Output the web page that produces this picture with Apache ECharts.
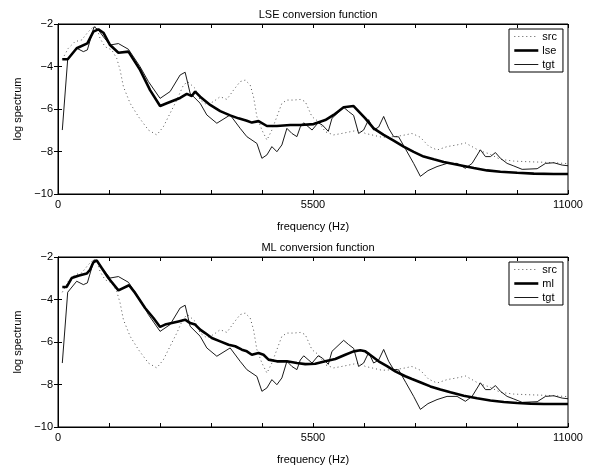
<!DOCTYPE html>
<html>
<head>
<meta charset="utf-8">
<script src="https://cdn.jsdelivr.net/npm/echarts@6/dist/echarts.min.js"></script>
<style>
  html, body { margin: 0; padding: 0; background: #fff; }
  #chart { width: 599px; height: 471px; }
</style>
</head>
<body>
<div id="chart"></div>
<script>
// 源谱、目标谱（两张图相同）
const srcPts = [[93,-3.66],[223,-3.14],[367,-2.83],[511,-2.75],[655,-2.36],[763,-2.13],[835,-2.16],[907,-2.68],[1015,-3.07],[1159,-3.22],[1267,-3.62],[1339,-4.16],[1411,-4.95],[1555,-5.73],[1735,-6.36],[1950,-6.99],[2130,-7.22],[2274,-6.83],[2418,-6.20],[2562,-5.58],[2706,-4.87],[2800,-4.72],[2958,-5.03],[3066,-5.58],[3210,-5.80],[3354,-5.65],[3498,-5.42],[3642,-5.55],[3786,-5.11],[3929,-4.71],[4037,-4.64],[4145,-4.87],[4217,-5.42],[4290,-6.36],[4398,-6.99],[4506,-7.46],[4613,-6.99],[4721,-6.36],[4829,-5.73],[4937,-5.58],[5081,-5.58],[5225,-5.55],[5333,-5.65],[5477,-6.36],[5621,-6.60],[5765,-7.07],[5945,-7.22],[6125,-7.15],[6304,-7.07],[6484,-6.99],[6628,-7.15],[6772,-7.22],[6988,-7.33],[7275,-7.30],[7491,-7.22],[7635,-7.15],[7816,-7.33],[7995,-7.75],[8175,-7.93],[8391,-7.77],[8607,-7.69],[8787,-7.60],[8931,-7.77],[9075,-7.95],[9291,-8.10],[9543,-8.37],[9830,-8.45],[10119,-8.48],[10407,-8.50],[10694,-8.53],[11000,-8.57]];
const tgtPts = [[93,-6.99],[209,-3.66],[403,-3.14],[547,-3.30],[633,-3.22],[777,-2.13],[871,-2.28],[979,-2.60],[1123,-2.99],[1303,-2.92],[1519,-3.19],[1770,-4.01],[1950,-4.71],[2202,-5.50],[2418,-5.18],[2634,-4.40],[2742,-4.27],[2850,-5.26],[3066,-5.73],[3210,-6.28],[3426,-6.67],[3713,-6.28],[3929,-6.91],[4073,-7.30],[4290,-7.62],[4398,-8.32],[4506,-8.16],[4613,-7.77],[4721,-8.01],[4829,-7.69],[4937,-6.91],[5045,-7.15],[5153,-7.30],[5225,-6.85],[5300,-6.65],[5480,-6.99],[5610,-6.65],[5700,-6.75],[5830,-7.05],[5909,-6.44],[6161,-5.92],[6268,-6.12],[6376,-6.30],[6484,-7.15],[6592,-6.99],[6700,-6.50],[6808,-6.99],[6916,-6.85],[7024,-6.35],[7132,-6.91],[7240,-7.30],[7347,-7.31],[7500,-7.90],[7671,-8.56],[7816,-9.17],[7980,-8.90],[8175,-8.71],[8391,-8.56],[8607,-8.56],[8787,-8.79],[8931,-8.56],[9111,-7.92],[9219,-8.24],[9327,-8.24],[9435,-8.05],[9543,-8.32],[9687,-8.56],[9830,-8.68],[10011,-8.84],[10335,-8.81],[10515,-8.56],[10694,-8.53],[10875,-8.64],[11000,-8.67]];
// 转换结果
const lsePts = [[93,-3.66],[209,-3.66],[403,-3.14],[633,-2.91],[763,-2.36],[871,-2.25],[979,-2.41],[1123,-2.99],[1303,-3.35],[1519,-3.30],[1770,-4.16],[1986,-5.11],[2202,-5.86],[2346,-5.73],[2634,-5.48],[2778,-5.29],[2886,-5.39],[2958,-5.18],[3066,-5.42],[3282,-5.81],[3498,-6.10],[3713,-6.30],[3893,-6.44],[4073,-6.55],[4181,-6.64],[4325,-6.57],[4506,-6.80],[4721,-6.80],[5009,-6.75],[5225,-6.75],[5513,-6.71],[5765,-6.52],[5945,-6.28],[6161,-5.92],[6376,-5.86],[6628,-6.44],[6808,-6.91],[7024,-7.22],[7240,-7.49],[7455,-7.77],[7671,-8.02],[7887,-8.24],[8103,-8.37],[8319,-8.49],[8535,-8.59],[8751,-8.68],[8967,-8.78],[9255,-8.89],[9543,-8.95],[9903,-9.00],[10263,-9.04],[10694,-9.06],[11000,-9.06]];
const mlPts = [[93,-3.41],[187,-3.41],[295,-2.99],[439,-2.88],[619,-2.78],[691,-2.60],[763,-2.25],[835,-2.16],[943,-2.52],[1087,-2.99],[1303,-3.57],[1533,-3.33],[1663,-3.69],[1878,-4.40],[2058,-4.87],[2202,-5.29],[2310,-5.18],[2454,-5.11],[2598,-5.03],[2742,-4.95],[2850,-5.11],[2958,-5.18],[3066,-5.42],[3174,-5.58],[3318,-5.81],[3498,-5.97],[3678,-6.13],[3822,-6.20],[3966,-6.36],[4073,-6.44],[4181,-6.60],[4325,-6.52],[4433,-6.60],[4541,-6.83],[4721,-6.91],[4937,-6.91],[5153,-6.99],[5333,-7.04],[5549,-7.02],[5765,-6.91],[5981,-6.80],[6196,-6.60],[6376,-6.44],[6520,-6.39],[6628,-6.44],[6772,-6.67],[6916,-6.91],[7096,-7.14],[7275,-7.38],[7491,-7.61],[7635,-7.74],[7851,-7.93],[8031,-8.09],[8247,-8.24],[8463,-8.37],[8751,-8.53],[9039,-8.65],[9327,-8.75],[9615,-8.82],[9903,-8.87],[10191,-8.90],[10479,-8.92],[11000,-8.92]];

const titles = ['LSE conversion function', 'ML conversion function'];
const xLabelTicks = [0, 5500, 11000];

const FONT = 'Liberation Sans, Arial, sans-serif';
const chart = echarts.init(document.getElementById('chart'));

function xAxisPair(gridIndex) {
    const base = {
        gridIndex: gridIndex, type: 'value', min: 0, max: 11000, interval: 1100,
        axisLine: { show: true, lineStyle: { color: '#000', width: 1 } },
        axisTick: { show: true, inside: true, length: 4, lineStyle: { color: '#000' } },
        splitLine: { show: false }
    };
    return [
        Object.assign({}, base, {
            position: 'bottom',
            name: 'frequency (Hz)', nameLocation: 'middle', nameGap: 27,
            nameTextStyle: { color: '#000', fontSize: 11, fontFamily: FONT },
            axisLabel: {
                color: '#000', fontSize: 11, fontFamily: FONT, margin: 5, showMinLabel: true, showMaxLabel: true,
                formatter: v => xLabelTicks.includes(v) ? String(v) : ''
            }
        }),
        Object.assign({}, base, { position: 'top', axisLabel: { show: false } })
    ];
}

function yAxisPair(gridIndex) {
    const base = {
        gridIndex: gridIndex, type: 'value', min: -10, max: -2, interval: 2,
        axisLine: { show: true, lineStyle: { color: '#000', width: 1 } },
        axisTick: { show: true, inside: true, length: 4, lineStyle: { color: '#000' } },
        splitLine: { show: false }
    };
    return [
        Object.assign({}, base, {
            position: 'left',
            name: 'log spectrum', nameLocation: 'middle', nameGap: 33,
            nameTextStyle: { color: '#000', fontSize: 11, fontFamily: FONT },
            axisLabel: {
                color: '#000', fontSize: 11, fontFamily: FONT, margin: 5,
                formatter: v => v < 0 ? '\u2212' + Math.abs(v) : String(v)
            }
        }),
        Object.assign({}, base, { position: 'right', axisLabel: { show: false } })
    ];
}

function lineSeries(name, data, gi, style) {
    return {
        name: name, type: 'line', data: data,
        xAxisIndex: gi * 2, yAxisIndex: gi * 2,
        symbol: 'none', showSymbol: false, silent: true,
        lineStyle: style, itemStyle: { color: style.color }
    };
}

const srcStyle = { color: '#555', width: 1, type: [1, 3] };
const convStyle = { color: '#000', width: 2.6 };
const tgtStyle = { color: '#000', width: 0.9 };

function legendAt(top, convName) {
    return {
        orient: 'vertical', left: 509, top: top,
        data: [
            { name: 'src', lineStyle: srcStyle },
            { name: convName, lineStyle: convStyle },
            { name: 'tgt', lineStyle: tgtStyle }
        ],
        selectedMode: false,
        itemWidth: 24, itemHeight: 10, itemGap: 3,
        padding: [2, 6, 2, 4],
        itemStyle: { opacity: 0, color: 'transparent', borderWidth: 0 },
        borderColor: '#000', borderWidth: 1, backgroundColor: '#fff', borderRadius: 0,
        textStyle: { color: '#000', fontSize: 11, fontFamily: FONT, padding: [0, 0, 0, -1] }
    };
}

chart.setOption({
    animation: false,
    backgroundColor: '#fff',
    title: titles.map((t, i) => ({
        text: t, left: 313, textAlign: 'center', top: i === 0 ? 4 : 237,
        textStyle: { color: '#000', fontSize: 11, fontWeight: 'normal', fontFamily: FONT }
    })),
    legend: [legendAt(29, 'lse'), legendAt(262, 'ml')],
    grid: [
        { left: 58, top: 24, width: 510, height: 170, show: true, borderColor: '#000', borderWidth: 1, backgroundColor: 'transparent' },
        { left: 58, top: 257, width: 510, height: 170, show: true, borderColor: '#000', borderWidth: 1, backgroundColor: 'transparent' }
    ],
    xAxis: [...xAxisPair(0), ...xAxisPair(1)],
    yAxis: [...yAxisPair(0), ...yAxisPair(1)],
    series: [
        lineSeries('src', srcPts, 0, srcStyle),
        lineSeries('lse', lsePts, 0, convStyle),
        lineSeries('tgt', tgtPts, 0, tgtStyle),
        lineSeries('src', srcPts, 1, srcStyle),
        lineSeries('ml', mlPts, 1, convStyle),
        lineSeries('tgt', tgtPts, 1, tgtStyle)
    ]
});
</script>
</body>
</html>
